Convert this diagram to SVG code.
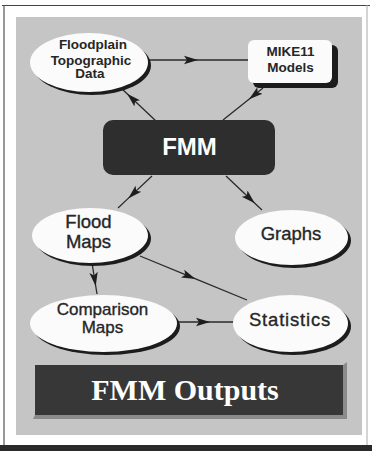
<svg xmlns="http://www.w3.org/2000/svg" width="372" height="451" viewBox="0 0 372 451">
  <defs>
    <style>
      .conn { stroke: #2a2a2a; stroke-width: 1.3; fill: none; marker-mid: url(#ah); }
      .shadow { fill: #1c1c1c; }
      .node { fill: #fbfbfb; }
      .lbl { font-family: "Liberation Sans", Arial, sans-serif; fill: #262626; text-anchor: middle; }
      .small { font-size: 13.5px; font-weight: bold; }
      .mid { font-size: 13.5px; font-weight: bold; }
      .big { font-size: 18.5px; stroke: #262626; stroke-width: 0.35; }
    </style>
    <marker id="ah" markerWidth="16" markerHeight="10" refX="14" refY="5" orient="auto" markerUnits="userSpaceOnUse">
      <path d="M0,0.8 L14,5 L0,9.2 L3,5 Z" fill="#1e1e1e"/>
    </marker>
  </defs>

  <!-- frame -->
  <rect x="0" y="0" width="372" height="451" fill="#ffffff"/>
  <line x1="2" y1="5.5" x2="370" y2="5.5" stroke="#444" stroke-width="1.2"/>
  <line x1="4" y1="5" x2="4" y2="446" stroke="#555" stroke-width="1.2"/>
  <line x1="367" y1="5" x2="367" y2="446" stroke="#aaa" stroke-width="1"/>
  <rect x="0" y="445" width="372" height="6" fill="#2a2a2a"/>
  <rect x="16" y="17" width="346" height="418" fill="#c5c5c5"/>

  <g id="connectors">
    <path class="conn" d="M148,60 L198,60 L248,60"/>
    <path class="conn" d="M156,121 L127.1,93.8 L122,89"/>
    <path class="conn" d="M263,88 L249,99.2 L223,120"/>
    <path class="conn" d="M152,176 L128.2,198.4 L118,208"/>
    <path class="conn" d="M226,176 L254.8,203.2 L262,210"/>
    <path class="conn" d="M92,263 L95.75,286.25 L97,294"/>
    <path class="conn" d="M140,256 L195.6,278.9 L247,300"/>
    <path class="conn" d="M178,322 L210,322 L234,322"/>
  </g>

  <g id="floodplain">
    <ellipse class="shadow" cx="92" cy="65.5" rx="59" ry="29.5"/>
    <ellipse class="node" cx="89" cy="62.5" rx="59" ry="29.5"/>
    <text class="lbl small" x="93" y="49">Floodplain</text>
    <text class="lbl small" x="91" y="64.5">Topographic</text>
    <text class="lbl small" x="90" y="78">Data</text>
  </g>

  <g id="mike11">
    <rect class="shadow" x="253" y="45" width="85" height="43" rx="6"/>
    <rect class="node" x="248" y="40" width="84" height="43" rx="6"/>
    <text class="lbl mid" x="290.5" y="56">MIKE11</text>
    <text class="lbl mid" x="290.5" y="72">Models</text>
  </g>

  <g id="fmm">
    <rect x="103" y="120" width="172" height="55" rx="10" fill="#2e2e2e"/>
    <text x="189.5" y="155" font-family="Liberation Sans, Arial, sans-serif" font-size="24" font-weight="bold" fill="#ffffff" text-anchor="middle">FMM</text>
  </g>

  <g id="floodmaps">
    <ellipse class="shadow" cx="93" cy="238.5" rx="58" ry="27.5"/>
    <ellipse class="node" cx="90" cy="235.5" rx="58" ry="27.5"/>
    <text class="lbl big" x="88.5" y="228">Flood</text>
    <text class="lbl big" x="88.5" y="248">Maps</text>
  </g>

  <g id="graphs">
    <ellipse class="shadow" cx="294.5" cy="240.5" rx="56.5" ry="27.5"/>
    <ellipse class="node" cx="291.5" cy="237.5" rx="56.5" ry="27.5"/>
    <text class="lbl big" x="291" y="240">Graphs</text>
  </g>

  <g id="comparison">
    <ellipse class="shadow" cx="106.5" cy="326.5" rx="73.5" ry="28.5"/>
    <ellipse class="node" cx="103.5" cy="323.5" rx="73.5" ry="28.5"/>
    <text class="lbl big" x="102.5" y="315" style="font-size:17px">Comparison</text>
    <text class="lbl big" x="102.5" y="333" style="font-size:17px">Maps</text>
  </g>

  <g id="statistics">
    <ellipse class="shadow" cx="293.5" cy="326.5" rx="57.5" ry="28.5"/>
    <ellipse class="node" cx="290.5" cy="323.5" rx="57.5" ry="28.5"/>
    <text class="lbl big" x="290" y="326" letter-spacing="0.8">Statistics</text>
  </g>

  <g id="fmm-outputs">
    <polygon points="343,365 347,362 347,419 33,419 35,415 343,415" fill="#8a8a8a"/>
    <rect x="35" y="365" width="308" height="50" fill="#373737"/>
    <text x="185" y="400" font-family="Liberation Serif, 'Times New Roman', serif" font-size="30" font-weight="bold" fill="#ffffff" text-anchor="middle">FMM Outputs</text>
  </g>
</svg>
